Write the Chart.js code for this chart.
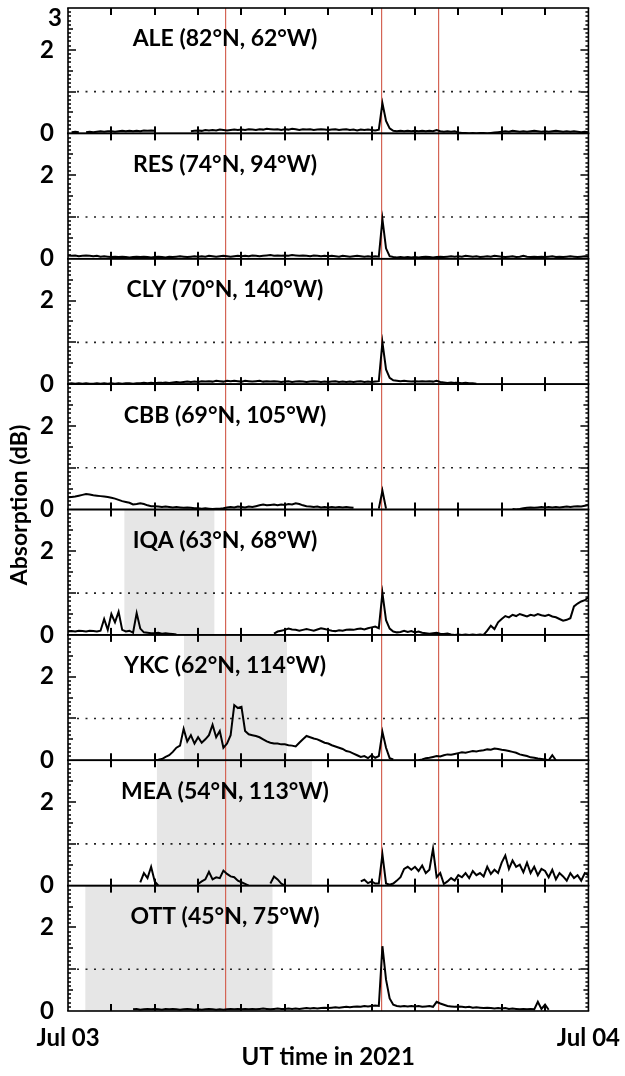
<!DOCTYPE html>
<html>
<head>
<meta charset="utf-8">
<script src="https://cdn.jsdelivr.net/npm/chart.js@4.4.1/dist/chart.umd.min.js"></script>
<style>
  body { margin: 0; background: #fff; }
  #wrap { width: 625px; height: 1076px; }
</style>
</head>
<body>
<div id="wrap"><canvas id="absChart" width="625" height="1076"></canvas></div>
<script>
// time base: every 10 minutes through Jul 03 (hours UT)
const hours = Array.from({ length: 145 }, (_, i) => i / 6);

const stations = ['ALE (82°N, 62°W)', 'RES (74°N, 94°W)', 'CLY (70°N, 140°W)', 'CBB (69°N, 105°W)',
    'IQA (63°N, 68°W)', 'YKC (62°N, 114°W)', 'MEA (54°N, 113°W)', 'OTT (45°N, 75°W)'];
const yTicks = [0, 1, 2, 3];

const _ = null;
const ale = [
    _, 0.03, 0.04, 0.03, _, 0.03, 0.04, 0.03, 0.04, 0.05, 0.04, 0.05,
    0.05, 0.04, 0.05, 0.06, 0.05, 0.06, 0.05, 0.06, 0.05, 0.07, 0.06, 0.07,
    0.06, _, _, _, _, _, _, _, _, _, 0.05, 0.06,
    0.07, 0.06, 0.08, 0.07, 0.08, 0.07, 0.09, 0.08, 0.07, 0.08, 0.09, 0.08,
    0.09, 0.08, 0.1, 0.09, 0.08, 0.1, 0.09, 0.11, 0.1, 0.09, 0.1, 0.08,
    0.1, 0.09, 0.11, 0.1, 0.08, 0.1, 0.09, 0.1, 0.08, 0.09, 0.1, 0.09,
    0.08, 0.09, 0.1, 0.08, 0.09, 0.1, 0.08, 0.09, 0.07, 0.09, 0.08, 0.09,
    0.08, 0.07, 0.09, 0.72, 0.3, 0.12, 0.06, 0.05, 0.06, 0.05, 0.06, 0.05,
    0.06, 0.05, 0.06, 0.05, 0.06, 0.05, 0.08, 0.05, 0.04, 0.05, 0.04, 0.05,
    0.02, 0.01, 0.01, 0.0, 0.01, 0.0, 0.01, 0.01, 0.0, 0.01, 0.02, 0.03,
    0.04, 0.05, 0.04, 0.06, 0.05, 0.04, 0.05, 0.04, 0.05, 0.06, 0.05, 0.04,
    0.05, 0.04, 0.05, 0.06, 0.05, 0.04, 0.05, 0.04, 0.05, 0.04, 0.03, 0.04,
    0.03
];
const res = [
    0.08, 0.07, 0.08, 0.06, 0.07, 0.08, 0.07, 0.06, 0.07, 0.05, 0.06, 0.05,
    0.04, 0.05, 0.04, 0.05, 0.04, 0.03, 0.04, 0.05, 0.04, 0.05, 0.04, 0.03,
    0.04, 0.05, 0.04, 0.03, 0.05, 0.04, 0.05, 0.06, 0.05, 0.04, 0.05, 0.06,
    0.05, 0.06, 0.05, 0.07, 0.06, 0.05, 0.06, 0.07, 0.06, 0.05, 0.06, 0.07,
    0.06, 0.07, 0.06, 0.08, 0.07, 0.06, 0.07, 0.08, 0.09, 0.07, 0.08, 0.07,
    0.08, 0.07, 0.09, 0.08, 0.07, 0.08, 0.07, 0.06, 0.08, 0.07, 0.06, 0.07,
    0.06, 0.07, 0.06, 0.05, 0.07, 0.06, 0.05, 0.06, 0.07, 0.06, 0.05, 0.06,
    0.05, 0.06, 0.05, 0.95, 0.25, 0.06, 0.04, 0.03, 0.04, 0.03, 0.04, 0.03,
    0.04, 0.03, 0.04, 0.05, 0.04, 0.03, 0.04, 0.05, 0.04, 0.05, 0.06, 0.05,
    0.06, 0.05, 0.07, 0.06, 0.05, 0.06, 0.04, 0.05, 0.06, 0.05, 0.07, 0.06,
    0.05, 0.04, 0.05, 0.06, 0.04, 0.05, 0.07, 0.05, 0.04, 0.05, 0.04, 0.05,
    0.04, 0.05, 0.06, 0.04, 0.05, 0.04, 0.05, 0.06, 0.05, 0.04, 0.05, 0.06,
    0.05
];
const cly = [
    0.01, 0.02, 0.01, 0.02, 0.01, 0.02, 0.01, 0.01, 0.02, 0.01, 0.02, 0.01,
    0.02, 0.01, 0.02, 0.01, 0.02, 0.02, 0.01, 0.02, 0.02, 0.03, 0.02, 0.03,
    0.02, 0.03, 0.03, 0.04, 0.03, 0.04, 0.05, 0.04, 0.05, 0.06, 0.05, 0.06,
    0.05, 0.07, 0.06, 0.07, 0.06, 0.08, 0.07, 0.06, 0.08, 0.07, 0.08, 0.07,
    0.06, 0.08, 0.07, 0.06, 0.07, 0.08, 0.06, 0.07, 0.06, 0.07, 0.06, 0.05,
    0.06, 0.07, 0.05, 0.06, 0.07, 0.06, 0.05, 0.06, 0.07, 0.06, 0.05, 0.06,
    0.05, 0.06, 0.07, 0.05, 0.06, 0.05, 0.06, 0.05, 0.06, 0.07, 0.05, 0.06,
    0.05, 0.06, 0.07, 1.0, 0.35, 0.15, 0.09, 0.08, 0.07, 0.08, 0.07, 0.06,
    0.07, 0.06, 0.07, 0.06, 0.07, 0.06, 0.08, 0.05, 0.04, 0.03, 0.04, 0.03,
    0.03, 0.02, 0.03, 0.02, 0.02, 0.01, _, _, _, _, _, _,
    _, _, _, _, _, _, _, _, _, _, _, _,
    _, _, _, _, _, _, _, _, _, _, _, _,
    _
];
const cbb = [
    0.29, 0.3, 0.31, 0.33, 0.35, 0.37, 0.36, 0.34, 0.33, 0.32, 0.31, 0.3,
    0.28, 0.26, 0.23, 0.2, 0.18, 0.16, 0.12, 0.13, 0.15, 0.13, 0.1, 0.08,
    0.08, 0.07, 0.06, 0.07, 0.06, 0.05, 0.06, 0.05, 0.04, 0.05, 0.04, 0.03,
    0.03, 0.02, 0.03, 0.02, 0.01, 0.02, 0.02, 0.03, 0.05, 0.06, 0.05, 0.07,
    0.06, 0.05, 0.07, 0.06, 0.08, 0.1, 0.12, 0.1, 0.11, 0.12, 0.1, 0.12,
    0.11, 0.13, 0.12, 0.15, 0.13, 0.1, 0.08, 0.07, 0.06, 0.07, 0.05, 0.06,
    0.05, 0.06, 0.05, 0.06, 0.05, 0.06, 0.05, 0.04, _, _, _, _,
    _, _, 0.02, 0.45, 0.02, _, _, _, _, _, _, _,
    _, _, _, _, _, _, _, _, _, _, _, _,
    _, _, _, _, _, _, _, _, _, _, _, _,
    _, _, _, 0.01, 0.0, 0.01, 0.03, 0.04, 0.05, 0.04, 0.05, 0.06,
    0.05, 0.06, 0.05, 0.06, 0.05, 0.06, 0.07, 0.06, 0.07, 0.08, 0.07, 0.09,
    0.11
];
const iqa = [
    0.08, 0.09, 0.08, 0.1, 0.09, 0.08, 0.1, 0.09, 0.08, 0.1, 0.38, 0.12,
    0.5, 0.3, 0.55, 0.12, 0.08, 0.1, 0.05, 0.52, 0.15, 0.06, 0.05, 0.04,
    0.04, 0.05, 0.03, 0.04, 0.03, 0.02, 0.01, _, _, _, _, _,
    _, _, _, _, _, _, _, _, _, _, _, _,
    _, _, _, _, _, _, _, _, _, 0.03, 0.08, 0.1,
    0.12, 0.15, 0.13, 0.12, 0.1, 0.12, 0.14, 0.12, 0.1, 0.13, 0.16, 0.14,
    0.12, 0.1, 0.09, 0.11, 0.1, 0.12, 0.13, 0.12, 0.14, 0.15, 0.13, 0.16,
    0.18, 0.2, 0.16, 1.0, 0.35, 0.15, 0.08, 0.06, 0.07, 0.1, 0.07, 0.09,
    0.06, 0.08, 0.05, 0.04, 0.03, 0.04, 0.05, 0.03, 0.02, 0.03, 0.01, 0.0,
    0.01, 0.0, 0.01, 0.0, 0.01, 0.0, 0.01, 0.0, 0.1, 0.22, 0.14, 0.3,
    0.38, 0.45, 0.42, 0.48, 0.45, 0.5, 0.47, 0.44, 0.48, 0.46, 0.5, 0.47,
    0.45, 0.48, 0.44, 0.42, 0.38, 0.34, 0.36, 0.4, 0.68, 0.75, 0.8, 0.83,
    0.9
];
const ykc = [
    _, _, _, _, _, _, _, _, _, _, _, _,
    _, _, _, _, _, _, _, _, _, _, _, _,
    0.0, 0.01, 0.03, 0.08, 0.12, 0.2, 0.3, 0.35, 0.75, 0.45, 0.6, 0.4,
    0.55, 0.42, 0.5, 0.6, 0.85, 0.55, 0.7, 0.3, 0.4, 0.6, 1.32, 1.25,
    1.28, 0.7, 0.62, 0.6, 0.58, 0.55, 0.5, 0.45, 0.42, 0.4, 0.4, 0.38,
    0.38, 0.36, 0.35, 0.33, 0.42, 0.5, 0.58, 0.55, 0.52, 0.5, 0.46, 0.42,
    0.4, 0.36, 0.33, 0.3, 0.27, 0.22, 0.2, 0.16, 0.12, 0.08, 0.1, 0.05,
    0.12, 0.06, 0.1, 0.68, 0.3, 0.05, 0.02, _, _, _, _, _,
    _, 0.0, 0.02, 0.05, 0.06, 0.08, 0.1, 0.09, 0.12, 0.14, 0.13, 0.15,
    0.17, 0.19, 0.18, 0.2, 0.22, 0.21, 0.23, 0.24, 0.26, 0.25, 0.28, 0.27,
    0.25, 0.24, 0.22, 0.2, 0.18, 0.14, 0.12, 0.1, 0.07, 0.06, 0.04, 0.03,
    0.02, 0.0, 0.12, 0.0, _, _, _, _, _, _, _, _,
    _
];
const mea = [
    _, _, _, _, _, _, _, _, _, _, _, _,
    _, _, _, _, _, _, _, _, 0.08, 0.3, 0.18, 0.45,
    0.1, 0.0, _, _, _, _, _, _, _, _, _, _,
    0.04, 0.1, 0.15, 0.33, 0.15, 0.2, 0.18, 0.36, 0.28, 0.22, 0.2, 0.12,
    0.08, 0.04, 0.0, _, _, _, _, _, 0.05, 0.22, 0.15, 0.05,
    0.0, _, _, _, _, _, _, _, _, _, _, _,
    _, _, _, _, _, _, _, _, _, 0.1, 0.14, 0.06,
    0.1, 0.05, 0.05, 0.75, 0.05, 0.02, 0.05, 0.12, 0.2, 0.4, 0.45, 0.38,
    0.45, 0.35, 0.48, 0.3, 0.38, 0.88, 0.2, 0.3, 0.04, 0.1, 0.18, 0.12,
    0.25, 0.2, 0.3, 0.18, 0.35, 0.25, 0.3, 0.22, 0.45, 0.28, 0.38, 0.3,
    0.55, 0.72, 0.4, 0.6, 0.45, 0.5, 0.32, 0.55, 0.3, 0.45, 0.25, 0.4,
    0.35, 0.2, 0.38, 0.15, 0.3, 0.22, 0.12, 0.3, 0.18, 0.25, 0.12, 0.3,
    0.25
];
const ott = [
    _, _, _, _, _, _, _, _, _, _, _, _,
    _, _, _, _, _, _, 0.04, 0.05, 0.03, 0.04, 0.05, 0.04,
    0.05, 0.04, 0.03, 0.05, 0.04, 0.05, 0.04, 0.03, 0.04, 0.05, 0.04, 0.03,
    0.04, 0.03, 0.04, 0.05, 0.04, 0.03, 0.04, 0.03, 0.04, 0.05, 0.04, 0.05,
    0.04, 0.05, 0.04, 0.05, 0.04, 0.05, 0.06, 0.05, 0.04, 0.05, 0.06, 0.05,
    0.05, 0.06, 0.05, 0.06, 0.05, 0.06, 0.07, 0.06, 0.07, 0.06, 0.07, 0.08,
    0.07, 0.08, 0.09, 0.08, 0.09, 0.1, 0.09, 0.1, 0.11, 0.1, 0.12, 0.11,
    0.12, 0.13, 0.12, 1.55, 0.75, 0.3, 0.15, 0.12, 0.11, 0.12, 0.11, 0.12,
    0.11, 0.12, 0.1, 0.11, 0.12, 0.1, 0.22, 0.18, 0.15, 0.12, 0.11, 0.1,
    0.11, 0.1, 0.09, 0.1, 0.08, 0.09, 0.08, 0.07, 0.08, 0.07, 0.06, 0.07,
    0.06, 0.07, 0.05, 0.06, 0.05, 0.04, 0.05, 0.04, 0.05, 0.04, 0.22, 0.05,
    0.15, 0.03, _, _, _, _, _, _, _, _, _, _,
    _
];
const series = [ale, res, cly, cbb, iqa, ykc, mea, ott];

// night-time shading (start, end hour) per station, null = none
const shades = [null, null, null, null, [2.6, 6.75], [5.35, 10.1], [4.1, 11.25], [0.8, 9.43]];
// event markers (hours UT)
const markers = [7.22, 14.45, 17.08];

const boldFont = (size) => ({ family: 'Lato', size: size, weight: 'bold' });

function panelScales(chart) {
    return stations.map((s, i) => chart.scales['y' + i]);
}

const panelDecor = {
    id: 'panelDecor',
    beforeDatasetsDraw(chart) {
        const ctx = chart.ctx;
        const xs = chart.scales.x;
        const area = chart.chartArea;
        ctx.save();
        panelScales(chart).forEach((ys, i) => {
            if (shades[i]) {
                ctx.fillStyle = '#e6e6e6';
                const x1 = xs.getPixelForValue(shades[i][0]);
                const x2 = xs.getPixelForValue(shades[i][1]);
                ctx.fillRect(x1, ys.top, x2 - x1, ys.bottom - ys.top);
            }
            // dotted 1 dB line
            ctx.strokeStyle = '#222';
            ctx.lineWidth = 1.6;
            ctx.setLineDash([2, 6.5]);
            const y1 = ys.getPixelForValue(1);
            ctx.beginPath();
            ctx.moveTo(area.left + 9, y1);
            ctx.lineTo(area.right, y1);
            ctx.stroke();
            ctx.setLineDash([]);
        });
        // event markers
        ctx.fillStyle = 'rgb(212,100,85)';
        markers.forEach(h => {
            const x = Math.round(xs.getPixelForValue(h));
            ctx.fillRect(x, area.top, 1.2, area.bottom - area.top);
        });
        ctx.restore();
    },
    afterDatasetsDraw(chart) {
        const ctx = chart.ctx;
        const xs = chart.scales.x;
        const area = chart.chartArea;
        const w = area.right - area.left;
        ctx.save();
        ctx.fillStyle = '#000';
        panelScales(chart).forEach((ys, i) => {
            // panel frame
            ctx.fillRect(area.left - 0.8, ys.top - 0.8, w + 1.6, 1.6);
            ctx.fillRect(area.left - 0.8, ys.bottom - 0.8, w + 1.6, 1.6);
            ctx.fillRect(area.left - 0.8, ys.top, 1.6, ys.bottom - ys.top);
            ctx.fillRect(area.right - 0.8, ys.top, 1.6, ys.bottom - ys.top);
            // x ticks, inward at top and bottom
            for (let h = 2; h < 24; h += 2) {
                const x = Math.round(xs.getPixelForValue(h));
                ctx.fillRect(x - 1, ys.top, 2, 7);
                ctx.fillRect(x - 1, ys.bottom - 7, 2, 7);
            }
            // y ticks, inward at left and right
            for (let k = 1; k < 30; k++) {
                const y = Math.round(ys.getPixelForValue(k / 10));
                const len = k % 10 === 0 ? 8 : (k % 5 === 0 ? 5 : 3);
                ctx.fillRect(area.left, y - 0.75, len, 1.5);
                ctx.fillRect(area.right - len, y - 0.75, len, 1.5);
            }
            ctx.font = 'bold 23px Lato';
            ctx.textAlign = 'center';
            ctx.textBaseline = 'middle';
            ctx.fillText(stations[i], 225, ys.top + 31);
        });
        // top "3" of the first panel, nudged down inside the page
        ctx.font = 'bold 24px Lato';
        ctx.textAlign = 'right';
        ctx.textBaseline = 'middle';
        ctx.fillText(String(yTicks[3]), area.left - 6, area.top + 10);
        ctx.restore();
    },
    afterDraw(chart) {
        const ctx = chart.ctx;
        ctx.save();
        ctx.translate(20, 505);
        ctx.rotate(-Math.PI / 2);
        ctx.font = 'bold 23px Lato';
        ctx.fillStyle = '#000';
        ctx.textAlign = 'center';
        ctx.textBaseline = 'middle';
        ctx.fillText('Absorption (dB)', 0, 0);
        ctx.restore();
    }
};

const scales = {
    x: {
        type: 'linear', min: 0, max: 24, position: 'bottom',
        grid: { display: false }, border: { display: false },
        ticks: {
            stepSize: 2, autoSkip: false, maxRotation: 0, padding: 5, color: '#000', font: boldFont(24),
            callback: v => v === 0 ? 'Jul 03' : (v === 24 ? 'Jul 04' : '')
        },
        title: { display: true, text: 'UT time in 2021', color: '#000', font: boldFont(24), padding: { top: 0 } },
        afterFit: s => { s.height = 65; }
    }
};
// defined bottom panel first: Chart.js stacks the last defined axis on top
for (let i = stations.length - 1; i >= 0; i--) {
    scales['y' + i] = {
        type: 'linear', min: yTicks[0], max: yTicks[3], position: 'left', stack: 'panels', stackWeight: 1,
        grid: { display: false }, border: { display: false },
        ticks: {
            stepSize: 1, padding: 6, color: '#000', font: boldFont(24),
            callback: v => v === yTicks[3] ? '' : v
        },
        afterFit: sc => {
            sc.width = 68;
            sc.paddingTop = 0;
            sc.paddingBottom = 0;
        }
    };
}

new Chart(document.getElementById('absChart'), {
    type: 'line',
    data: {
        datasets: series.map((vals, i) => ({
            label: stations[i],
            yAxisID: 'y' + i,
            data: hours.map((h, k) => ({ x: h, y: vals[k] })),
            borderColor: '#000',
            borderWidth: 2,
            pointRadius: 0,
            tension: 0,
            spanGaps: false
        }))
    },
    options: {
        responsive: false,
        animation: false,
        layout: { padding: { top: 8, right: 32, left: 0, bottom: 0 } },
        scales: scales,
        plugins: { legend: { display: false }, tooltip: { enabled: false } }
    },
    plugins: [panelDecor]
});
</script>
</body>
</html>
